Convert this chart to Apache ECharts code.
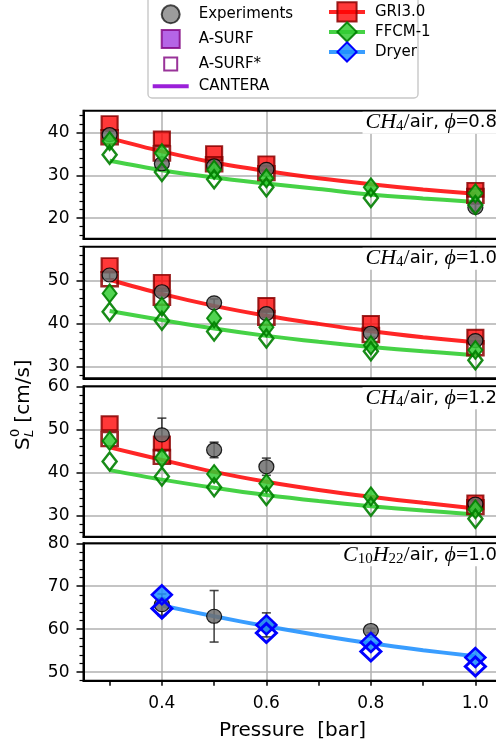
<!DOCTYPE html>
<html><head><meta charset="utf-8">
<script src="https://cdn.jsdelivr.net/npm/echarts@6/dist/echarts.min.js"></script>
<style>html,body{margin:0;padding:0;background:#fff}#c{width:496px;height:747px}</style>
</head><body><div id="c"></div>
<script>
// ---------------- data ----------------
const pressureLine  = [0.3, 0.4, 0.5, 0.6, 0.7, 0.8, 0.9, 1.0];
const pressureDryer = [0.4, 0.5, 0.6, 0.7, 0.8, 0.9, 1.0];

// Panel 1: CH4/air phi=0.8
const p1ExpX = [0.3, 0.4, 0.5, 0.6, 1.0];
const p1ExpY = [39.5, 32.7, 32.2, 31.4, 22.5];
const p1ExpErr = [0.8, 0.8, 0.8, 0.8, 0.8];
const p1GriX = [0.3, 0.4, 0.5, 0.6, 1.0];
const p1GriAsurf = [42.2, 38.6, 35.2, 32.8, 26.6];
const p1GriAsurfStar = [38.9, 35.1, 32.6, 30.5, 25.2];
const p1GriCantera = [38.7, 35.6, 33.0, 31.0, 29.3, 27.9, 26.7, 25.7];
const p1FfcmX = [0.3, 0.4, 0.5, 0.6, 0.8, 1.0];
const p1FfcmAsurf = [38.0, 35.2, 31.3, 29.3, 27.2, 25.8];
const p1FfcmAsurfStar = [34.8, 30.8, 29.1, 27.2, 24.7, 23.1];
const p1FfcmCantera = [33.4, 31.2, 29.5, 28.1, 26.8, 25.5, 24.6, 23.8];

// Panel 2: CH4/air phi=1.0
const p2ExpX = [0.3, 0.4, 0.5, 0.6, 0.8, 1.0];
const p2ExpY = [51.4, 47.5, 44.9, 42.4, 37.8, 36.1];
const p2ExpErr = [0.9, 0.9, 0.9, 0.9, 0.9, 0.9];
const p2GriX = [0.3, 0.4, 0.6, 0.8, 1.0];
const p2GriAsurf = [53.7, 49.8, 44.4, 40.2, 37.0];
const p2GriAsurfStar = [50.4, 46.1, 41.4, 37.4, 34.3];
const p2GriCantera = [50.3, 47.0, 44.2, 41.9, 40.0, 38.3, 36.9, 35.7];
const p2FfcmX = [0.3, 0.4, 0.5, 0.6, 0.8, 1.0];
const p2FfcmAsurf = [47.1, 44.0, 41.3, 39.2, 35.0, 33.9];
const p2FfcmAsurfStar = [42.8, 40.7, 38.2, 36.6, 33.6, 31.5];
const p2FfcmCantera = [43.0, 40.9, 38.9, 37.2, 35.8, 34.6, 33.6, 32.7];

// Panel 3: CH4/air phi=1.2
const p3ExpX = [0.4, 0.5, 0.6, 1.0];
const p3ExpY = [48.7, 45.2, 41.3, 32.6];
const p3ExpErr = [3.9, 1.8, 2.0, 0.8];
const p3GriX = [0.3, 0.4, 1.0];
const p3GriAsurf = [51.4, 46.7, 33.0];
const p3GriAsurfStar = [47.7, 43.6, 31.9];
const p3GriCantera = [45.8, 42.9, 40.1, 37.8, 35.9, 34.3, 32.9, 31.6];
const p3FfcmX = [0.3, 0.4, 0.5, 0.6, 0.8, 1.0];
const p3FfcmAsurf = [47.3, 43.3, 39.6, 37.4, 34.4, 31.4];
const p3FfcmAsurfStar = [42.5, 39.0, 36.5, 34.5, 32.0, 29.2];
const p3FfcmCantera = [40.5, 38.3, 36.4, 34.7, 33.3, 32.1, 31.1, 30.2];

// Panel 4: C10H22/air phi=1.0
const p4ExpX = [0.4, 0.5, 0.6, 0.8];
const p4ExpY = [65.7, 63.0, 61.0, 59.7];
const p4ExpErr = [2.5, 6.0, 2.8, 0.5];
const p4DryerX = [0.4, 0.6, 0.8, 1.0];
const p4DryerAsurf = [68.0, 61.0, 56.9, 53.4];
const p4DryerAsurfStar = [64.8, 59.1, 54.8, 51.3];
const p4DryerCantera = [65.5, 63.0, 60.7, 58.6, 56.7, 55.1, 53.7];

// axes / ticks
const xMin = 0.25, xMax = 1.05;
const xMajorTicks = [0.4, 0.6, 0.8, 1.0];
const xMinorTicks = [0.3, 0.5, 0.7, 0.9];
const yMins = [15.2, 27.3, 25, 48];
const yMaxs = [45.1, 58, 60, 80];
const yMajorTicks = [[20, 30, 40], [30, 40, 50], [30, 40, 50, 60], [50, 60, 70, 80]];
const yMinorTicks = [
  [16, 18, 22, 24, 26, 28, 32, 34, 36, 38, 42, 44],
  [28, 32, 34, 36, 38, 42, 44, 46, 48, 52, 54, 56, 58],
  [26, 28, 32, 34, 36, 38, 42, 44, 46, 48, 52, 54, 56, 58],
  [48, 52, 54, 56, 58, 62, 64, 66, 68, 72, 74, 76, 78]
];
const panelTitles = [
  '{m|CH}{s|4}{e|/}{n|air, }{m|ϕ}{e|=}{n|0.8}',
  '{m|CH}{s|4}{e|/}{n|air, }{m|ϕ}{e|=}{n|1.0}',
  '{m|CH}{s|4}{e|/}{n|air, }{m|ϕ}{e|=}{n|1.2}',
  '{m|C}{s|10}{m|H}{s|22}{e|/}{n|air, }{m|ϕ}{e|=}{n|1.0}'
];
const legendLeft = ['Experiments', 'A-SURF', 'A-SURF*', 'CANTERA'];
const legendRight = ['GRI3.0', 'FFCM-1', 'Dryer'];

// ---------------- layout / styles ----------------
const FONT = 'DejaVu Sans';
const gridTops = [110.7, 246.7, 386.3, 543.3];
const gridHeights = [128, 131.6, 150.5, 137.4];
const GRID_LEFT = 83.5, GRID_WIDTH = 418;

const RED = {fill: 'rgba(255,0,0,0.78)', edge: 'rgba(139,0,0,0.85)', line: 'rgba(255,0,0,0.85)'};
const GREEN = {fill: 'rgba(50,205,50,0.85)', edge: 'rgba(0,128,0,0.9)', line: 'rgba(50,205,50,0.9)'};
const BLUE = {fill: 'rgba(30,144,255,0.85)', edge: '#0000ff', line: 'rgba(30,144,255,0.88)'};
const PURPLE = {fill: '#a23ee0', edge: '#800080', line: '#9b20d9'};
const GRAY = {fill: 'rgba(110,110,110,0.85)', edge: 'rgba(0,0,0,0.85)'};

const pairs = (xs, ys) => xs.map((x, i) => [x, ys[i]]);

function lineSeries(i, xs, ys, color) {
  return {type: 'line', xAxisIndex: i, yAxisIndex: i, data: pairs(xs, ys), smooth: 0.35,
    symbol: 'none', lineStyle: {width: 4, color: color}, silent: true, z: 2};
}
function markerSeries(i, xs, ys, symbol, size, fill, edge, bw) {
  return {type: 'scatter', xAxisIndex: i, yAxisIndex: i, data: pairs(xs, ys), symbol: symbol,
    symbolSize: size, itemStyle: {color: fill, borderColor: edge, borderWidth: bw, opacity: 1}, silent: true, z: 2};
}
function errSeries(i, xs, ys, es) {
  return {type: 'custom', xAxisIndex: i, yAxisIndex: i, silent: true, z: 2,
    data: xs.map((x, j) => [x, ys[j], es[j]]), encode: {x: 0, y: 1},
    renderItem: function (params, api) {
      const x = api.value(0), y = api.value(1), e = api.value(2);
      const t = api.coord([x, y + e]), b = api.coord([x, y - e]);
      const w = 4.5, st = {stroke: 'rgba(40,40,40,0.85)', lineWidth: 1.6};
      return {type: 'group', children: [
        {type: 'line', shape: {x1: t[0], y1: t[1], x2: b[0], y2: b[1]}, style: st},
        {type: 'line', shape: {x1: t[0] - w, y1: t[1], x2: t[0] + w, y2: t[1]}, style: st},
        {type: 'line', shape: {x1: b[0] - w, y1: b[1], x2: b[0] + w, y2: b[1]}, style: st}
      ]};
    }};
}

const SQ = [16, 14], DI = [14, 18], DIB = [20, 19], CI = [15, 14];
const TRANSP = 'rgba(0,0,0,0)';

const series = [];
const methane = [
  [p1ExpX, p1ExpY, p1ExpErr, p1GriX, p1GriAsurf, p1GriAsurfStar, p1GriCantera, p1FfcmX, p1FfcmAsurf, p1FfcmAsurfStar, p1FfcmCantera],
  [p2ExpX, p2ExpY, p2ExpErr, p2GriX, p2GriAsurf, p2GriAsurfStar, p2GriCantera, p2FfcmX, p2FfcmAsurf, p2FfcmAsurfStar, p2FfcmCantera],
  [p3ExpX, p3ExpY, p3ExpErr, p3GriX, p3GriAsurf, p3GriAsurfStar, p3GriCantera, p3FfcmX, p3FfcmAsurf, p3FfcmAsurfStar, p3FfcmCantera]
];
methane.forEach((d, i) => {
  const [ex, ey, ee, gx, ga, gs, gc, fx, fa, fs, fc] = d;
  series.push(lineSeries(i, pressureLine, gc, RED.line));
  series.push(lineSeries(i, pressureLine, fc, GREEN.line));
  series.push(markerSeries(i, gx, ga, 'rect', SQ, RED.fill, RED.edge, 2));
  series.push(markerSeries(i, gx, gs, 'rect', SQ, TRANSP, RED.edge, 2.5));
  series.push(errSeries(i, ex, ey, ee));
  series.push(markerSeries(i, ex, ey, 'circle', CI, GRAY.fill, GRAY.edge, 1.2));
  series.push(markerSeries(i, fx, fa, 'diamond', DI, GREEN.fill, GREEN.edge, 2));
  series.push(markerSeries(i, fx, fs, 'diamond', DI, TRANSP, GREEN.edge, 2.5));
});
series.push(lineSeries(3, pressureDryer, p4DryerCantera, BLUE.line));
series.push(errSeries(3, p4ExpX, p4ExpY, p4ExpErr));
series.push(markerSeries(3, p4ExpX, p4ExpY, 'circle', CI, GRAY.fill, GRAY.edge, 1.2));
series.push(markerSeries(3, p4DryerX, p4DryerAsurf, 'diamond', DIB, BLUE.fill, BLUE.edge, 2.5));
series.push(markerSeries(3, p4DryerX, p4DryerAsurfStar, 'diamond', DIB, TRANSP, BLUE.edge, 3));

// legend proxy series (no data)
series.push({name: 'Experiments', type: 'scatter', data: [], symbol: 'circle', itemStyle: {color: GRAY.fill, borderColor: GRAY.edge, borderWidth: 1.2}});
series.push({name: 'A-SURF', type: 'scatter', data: [], symbol: 'rect', itemStyle: {color: PURPLE.fill, borderColor: PURPLE.edge, borderWidth: 2}});
series.push({name: 'A-SURF*', type: 'scatter', data: [], symbol: 'rect', itemStyle: {color: '#ffffff', borderColor: PURPLE.edge, borderWidth: 2.8}});
series.push({name: 'CANTERA', type: 'line', data: [], symbol: 'none', color: PURPLE.line, itemStyle: {color: PURPLE.line}, lineStyle: {color: PURPLE.line, width: 4}});
series.push({name: 'GRI3.0', type: 'line', data: [], symbol: 'rect', itemStyle: {color: RED.fill, borderColor: RED.edge, borderWidth: 2}, lineStyle: {color: RED.line, width: 4}});
series.push({name: 'FFCM-1', type: 'line', data: [], symbol: 'diamond', itemStyle: {color: GREEN.fill, borderColor: GREEN.edge, borderWidth: 2}, lineStyle: {color: GREEN.line, width: 4}});
series.push({name: 'Dryer', type: 'line', data: [], symbol: 'diamond', itemStyle: {color: BLUE.fill, borderColor: BLUE.edge, borderWidth: 2.5}, lineStyle: {color: BLUE.line, width: 4}});

const grids = [], xAxes = [], yAxes = [];
for (let i = 0; i < 4; i++) {
  grids.push({left: GRID_LEFT, width: GRID_WIDTH, top: gridTops[i], height: gridHeights[i],
    show: true, borderColor: '#000', borderWidth: 2, backgroundColor: 'transparent', z: 1,
    outerBoundsMode: 'none', containLabel: false});
  xAxes.push({type: 'value', gridIndex: i, min: xMin, max: xMax, position: 'bottom',
    axisLine: {show: true, onZero: false, lineStyle: {color: '#000', width: 2}},
    axisTick: {show: i === 3, customValues: xMajorTicks, length: 5, lineStyle: {color: '#000', width: 1.5}},
    axisLabel: {show: i === 3, customValues: xMajorTicks, fontSize: 17, fontFamily: FONT, color: '#000', margin: 14,
      formatter: v => v.toFixed(1)},
    splitLine: {show: true, lineStyle: {color: '#b0b0b0', width: 1.5}},
    name: i === 3 ? 'Pressure  [bar]' : '', nameLocation: 'middle', nameGap: 40,
    nameTextStyle: {fontSize: 20, fontFamily: FONT, color: '#000'}});
}
xAxes.push({type: 'value', gridIndex: 3, min: xMin, max: xMax, position: 'bottom',
  axisLine: {show: false}, axisTick: {show: true, customValues: xMinorTicks, length: 5, lineStyle: {color: '#000', width: 1.5}},
  axisLabel: {show: false}, splitLine: {show: false}});
for (let i = 0; i < 4; i++) {
  yAxes.push({type: 'value', gridIndex: i, min: yMins[i], max: yMaxs[i], position: 'left',
    axisLine: {show: true, onZero: false, lineStyle: {color: '#000', width: 2}},
    axisTick: {show: true, customValues: yMajorTicks[i], length: 7, lineStyle: {color: '#000', width: 1.5}},
    axisLabel: {show: true, customValues: yMajorTicks[i], fontSize: 17, fontFamily: FONT, color: '#000', margin: 14},
    splitLine: {show: true, lineStyle: {color: '#b0b0b0', width: 1.5}}});
}
for (let i = 0; i < 4; i++) {
  yAxes.push({type: 'value', gridIndex: i, min: yMins[i], max: yMaxs[i], position: 'left', offset: 0,
    axisLine: {show: false}, axisTick: {show: true, customValues: yMinorTicks[i], length: 4, lineStyle: {color: '#000', width: 1.2}},
    axisLabel: {show: false}, splitLine: {show: false}});
}

const titleRich = {
  m: {fontFamily: 'Liberation Serif', fontStyle: 'italic', fontSize: 22, lineHeight: 22, fill: '#000', color: '#000'},
  s: {fontFamily: 'Liberation Serif', fontSize: 15, lineHeight: 15, verticalAlign: 'bottom', fill: '#000', color: '#000'},
  e: {fontFamily: 'Liberation Serif', fontSize: 22, lineHeight: 22, fill: '#000', color: '#000'},
  n: {fontFamily: FONT, fontSize: 18, lineHeight: 22, fill: '#000', color: '#000'}
};
const graphics = [
  {type: 'rect', shape: {x: 148, y: -5, width: 270, height: 103, r: 4},
    style: {fill: 'rgba(255,255,255,0.85)', stroke: '#c8c8c8', lineWidth: 1.4}, z: 3, silent: true}
];
panelTitles.forEach((t, i) => {
  graphics.push({type: 'text', z: 10, silent: true,
    style: {text: t, rich: titleRich, x: 499, y: gridTops[i] + 1, align: 'right', verticalAlign: 'top',
      backgroundColor: '#ffffff', padding: [0, 2, 0, 3]}});
});
const ylab = {fontSize: 20, fontFamily: FONT, fill: '#000', align: 'left', verticalAlign: 'middle'};
graphics.push({type: 'group', x: 24, y: 400, rotation: Math.PI / 2, silent: true, z: 10, children: [
  {type: 'text', x: -50, y: 0, style: Object.assign({text: 'S'}, ylab)},
  {type: 'text', x: -37, y: -8, style: Object.assign({}, ylab, {text: '0', fontSize: 13})},
  {type: 'text', x: -37, y: 6, style: Object.assign({}, ylab, {text: 'L', fontSize: 13, fontStyle: 'italic'})},
  {type: 'text', x: -29, y: 0, style: Object.assign({text: ' [cm/s]'}, ylab)}
]});

const legendText = {fontSize: 15, fontFamily: FONT, color: '#000', padding: [0, 0, 0, 5]};
const option = {
  animation: false,
  backgroundColor: '#ffffff',
  textStyle: {fontFamily: FONT},
  grid: grids, xAxis: xAxes, yAxis: yAxes,
  legend: [
    {data: [{name: 'Experiments'},
            {name: 'A-SURF', icon: 'path://M0,0h18v18h-18z'},
            {name: 'A-SURF*', icon: 'path://M0,0M18,18M2.5,2.5h13v13h-13z'},
            {name: 'CANTERA', icon: 'path://M0,0h36v4h-36z'}],
      orient: 'vertical', left: 152.7, top: 4.3, itemWidth: 36, itemHeight: 18, itemGap: 4.8,
      textStyle: legendText, selectedMode: false, z: 5, padding: 0},
    {data: legendRight, orient: 'vertical', left: 327, top: 1.3, itemWidth: 36, itemHeight: 24, itemGap: -1.2,
      lineStyle: {width: 4}, textStyle: legendText, selectedMode: false, z: 5, padding: 0}
  ],
  graphic: graphics,
  series: series
};
const chart = echarts.init(document.getElementById('c'), null, {renderer: 'canvas'});
chart.setOption(option);
</script>
</body></html>
